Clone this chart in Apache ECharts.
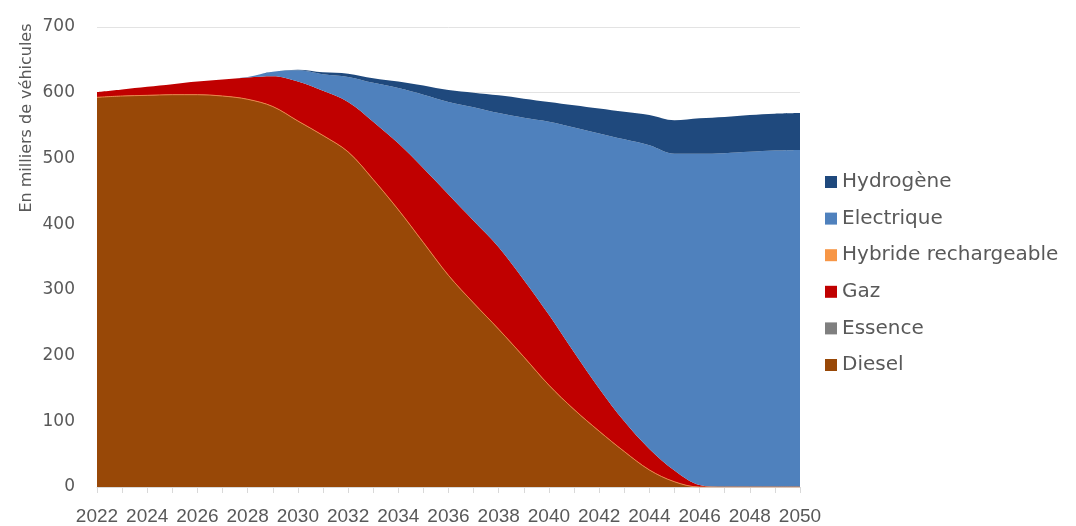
<!DOCTYPE html>
<html>
<head>
<meta charset="utf-8">
<script src="https://cdn.jsdelivr.net/npm/echarts@6/dist/echarts.min.js"></script>
<style>
  html, body { margin: 0; padding: 0; background: #ffffff; }
  #chart { width: 1076px; height: 526px; }
</style>
</head>
<body>
<div id="chart"></div>
<script>
// Parc de véhicules par motorisation, en milliers de véhicules
const years = [];
for (let y = 2022; y <= 2050; y++) years.push(String(y));

const diesel     = [593,595,596,597,597,595,590,579,557,535,510,468,422,372,322,280,240,198,155,118,85,54,26,8,0,0,0,0,0];
const essence    = [0,0,0,0,0,0,0,0,0,0,0,0,0,0,0,0,0,0,0,0,0,0,0,0,0,0,0,0,0];
const gaz        = [8,10,13,16,20,25,33,46,60,68,76,88,101,113,123,125,125,117,107,87,65,46,32,17,3,0,0,0,0];
const hybride    = [0,0,0,0,0,0,0,0,0,0,0,0,0,0,0,0,0,0,0,0,0,0,0,0,0,0,0,0,0];
const electrique = [0,0,0,0,0,0,1,7,17,25,38,59,84,112,141,173,204,247,294,342,388,429,462,482,504,508,510,512,513];
const hydrogene  = [0,0,0,0,0,0,0,0,1,3,5,7,10,14,18,22,27,29,30,34,38,42,46,51,54,55,56,56,56];

const yTicks = { min: 0, max: 700, interval: 100 };

const palette = {
  'Diesel': '#984807',
  'Essence': '#7f7f7f',
  'Gaz': '#c00000',
  'Hybride rechargeable': '#f79646',
  'Electrique': '#4f81bd',
  'Hydrogène': '#1f497d'
};

function areaSeries(name, data, line) {
  return {
    name: name,
    type: 'line',
    stack: 'parc',
    data: data,
    smooth: 0.35,
    showSymbol: false,
    symbol: 'none',
    color: palette[name],
    lineStyle: line || { width: 0 },
    areaStyle: { color: palette[name], opacity: 1 },
    emphasis: { disabled: true }
  };
}

const textColor = '#595959';
const chart = echarts.init(document.getElementById('chart'));
chart.setOption({
  animation: false,
  backgroundColor: '#ffffff',
  grid: { left: 97, right: 276, top: 27, bottom: 38 },
  legend: {
    orient: 'vertical',
    left: 820,
    top: 167,
    itemWidth: 12,
    itemHeight: 12,
    itemGap: 16.6,
    icon: 'rect',
    data: ['Hydrogène', 'Electrique', 'Hybride rechargeable', 'Gaz', 'Essence', 'Diesel'],
    textStyle: { color: textColor, fontSize: 20, lineHeight: 20, fontFamily: 'DejaVu Sans' }
  },
  xAxis: {
    type: 'category',
    data: years,
    boundaryGap: false,
    axisLine: { lineStyle: { color: '#d9d9d9', width: 1 } },
    axisTick: { show: true, interval: 0, length: 6, lineStyle: { color: '#d9d9d9' } },
    axisLabel: { interval: 1, color: textColor, fontSize: 19, fontFamily: 'Liberation Sans', margin: 20 },
    splitLine: { show: false }
  },
  yAxis: {
    type: 'value',
    min: yTicks.min,
    max: yTicks.max,
    interval: yTicks.interval,
    axisLine: { show: false },
    axisTick: { show: false },
    axisLabel: { color: textColor, fontSize: 17, fontFamily: 'DejaVu Sans', margin: 22 },
    splitLine: { lineStyle: { color: '#e3e3e3', width: 1 } }
  },
  graphic: [{
    type: 'text',
    x: 27,
    y: 118,
    rotation: Math.PI / 2,
    style: {
      text: 'En milliers de véhicules',
      fill: textColor,
      font: '16px "DejaVu Sans"',
      textAlign: 'center',
      textVerticalAlign: 'middle'
    }
  }],
  series: [
    areaSeries('Diesel', diesel, { width: 1, color: '#e8874a' }),
    areaSeries('Essence', essence),
    areaSeries('Gaz', gaz),
    areaSeries('Hybride rechargeable', hybride),
    areaSeries('Electrique', electrique),
    areaSeries('Hydrogène', hydrogene)
  ]
});
</script>
</body>
</html>
